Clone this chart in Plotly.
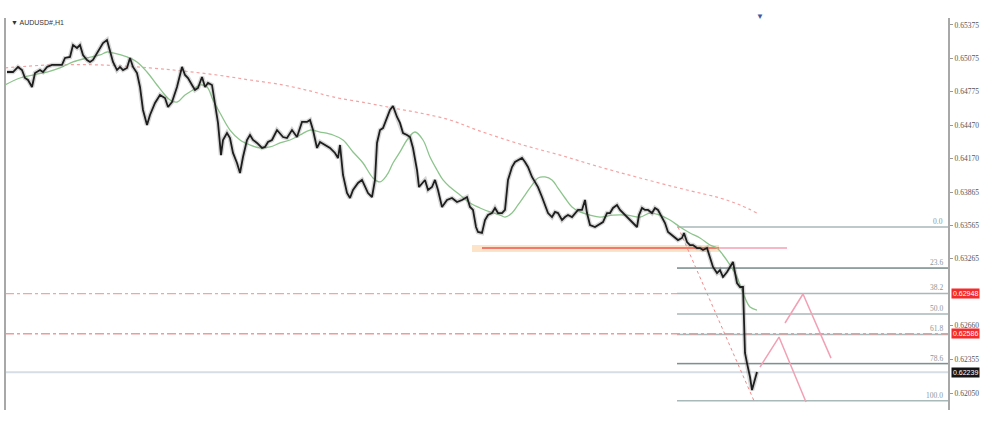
import plotly.graph_objects as go

# ---------------- data ----------------
bar_x = [7, 13, 18, 22, 25, 28, 32, 35, 40, 43,
         47, 52, 57, 62, 65, 70, 73, 77, 80, 83,
         87, 90, 93, 97, 100, 103, 107, 110, 113, 117,
         120, 123, 127, 130, 133, 137, 140, 143, 147, 150,
         155, 160, 165, 168, 172, 177, 182, 185, 188, 192,
         195, 198, 202, 205, 208, 212, 215, 218, 221, 223,
         227, 230, 233, 237, 240, 243, 247, 250, 253, 257,
         262, 265, 268, 272, 277, 280, 283, 287, 292, 297,
         302, 307, 310, 313, 317, 320, 325, 330, 335, 338,
         340, 343, 347, 350, 353, 358, 362, 365, 368, 372,
         375, 377, 380, 383, 387, 390, 393, 397, 400, 403,
         407, 410, 413, 417, 419, 422, 425, 428, 432, 435,
         438, 442, 447, 452, 457, 462, 467, 470, 473, 476,
         478, 482, 485, 488, 492, 495, 498, 502, 505, 508,
         512, 515, 518, 522, 525, 528, 532, 535, 538, 542,
         545, 548, 552, 555, 558, 562, 565, 568, 572, 575,
         578, 582, 585, 587, 590, 595, 600, 603, 607, 610,
         613, 617, 620, 623, 627, 630, 633, 637, 639, 642,
         645, 648, 652, 655, 658, 662, 665, 668, 672, 675,
         678, 682, 684, 687, 690, 693, 697, 700, 703, 707,
         710, 713, 717, 720, 723, 727, 730, 733, 737, 740,
         743, 745, 747, 750, 752, 755, 757]

close = [0.64950, 0.64950, 0.64996, 0.64968, 0.64896, 0.64878, 0.64815, 0.64941, 0.64968, 0.64950,
         0.64996, 0.65014, 0.65014, 0.65014, 0.65077, 0.65086, 0.65194, 0.65167, 0.65194, 0.65104,
         0.65059, 0.65041, 0.65059, 0.65122, 0.65167, 0.65212, 0.65240, 0.65149, 0.65041, 0.64968,
         0.64996, 0.64968, 0.64987, 0.65077, 0.64996, 0.64941, 0.64815, 0.64607, 0.64472, 0.64562,
         0.64670, 0.64743, 0.64715, 0.64634, 0.64679, 0.64815, 0.64996, 0.64923, 0.64896, 0.64833,
         0.64788, 0.64806, 0.64905, 0.64815, 0.64851, 0.64833, 0.64670, 0.64490, 0.64200, 0.64336,
         0.64399, 0.64354, 0.64219, 0.64128, 0.64038, 0.64182, 0.64336, 0.64381, 0.64336, 0.64309,
         0.64264, 0.64273, 0.64318, 0.64336, 0.64426, 0.64399, 0.64363, 0.64354, 0.64426, 0.64363,
         0.64499, 0.64499, 0.64517, 0.64426, 0.64264, 0.64318, 0.64291, 0.64264, 0.64219, 0.64173,
         0.64291, 0.64020, 0.63857, 0.63812, 0.63884, 0.63948, 0.63975, 0.63911, 0.63857, 0.63821,
         0.63975, 0.64309, 0.64426, 0.64444, 0.64544, 0.64607, 0.64643, 0.64544, 0.64490, 0.64399,
         0.64381, 0.64363, 0.64264, 0.64065, 0.63911, 0.63948, 0.63975, 0.63884, 0.63911, 0.63975,
         0.63884, 0.63731, 0.63794, 0.63812, 0.63776, 0.63794, 0.63821, 0.63731, 0.63704, 0.63550,
         0.63505, 0.63496, 0.63613, 0.63658, 0.63676, 0.63722, 0.63676, 0.63676, 0.63704, 0.63975,
         0.64092, 0.64137, 0.64155, 0.64173, 0.64137, 0.64092, 0.64002, 0.63957, 0.63911, 0.63821,
         0.63749, 0.63676, 0.63640, 0.63686, 0.63676, 0.63613, 0.63640, 0.63658, 0.63640, 0.63676,
         0.63704, 0.63704, 0.63794, 0.63676, 0.63568, 0.63550, 0.63577, 0.63595, 0.63676, 0.63676,
         0.63722, 0.63749, 0.63704, 0.63676, 0.63640, 0.63613, 0.63586, 0.63550, 0.63658, 0.63722,
         0.63704, 0.63704, 0.63676, 0.63722, 0.63704, 0.63631, 0.63586, 0.63505, 0.63478, 0.63460,
         0.63432, 0.63451, 0.63496, 0.63414, 0.63387, 0.63387, 0.63360, 0.63360, 0.63342, 0.63360,
         0.63279, 0.63189, 0.63134, 0.63161, 0.63098, 0.63143, 0.63189, 0.63234, 0.63044, 0.63008,
         0.63008, 0.62412, 0.62321, 0.62195, 0.62077, 0.62168, 0.62240]

ma_fast_x = [5, 20, 33, 47, 60, 73, 87, 100, 107, 113, 127, 137, 147, 157, 165, 170, 177, 185,
             193, 200, 207, 213, 220, 230, 240, 250, 260, 270, 280, 290, 300, 310, 320, 333,
             343, 353, 363, 373, 380, 387, 393, 400, 407, 415, 423, 430, 437, 443, 450, 460,
             470, 480, 490, 500, 505, 512, 518, 525, 532, 538, 545, 552, 558, 565, 572, 580,
             590, 600, 613, 627, 640, 650, 660, 670, 680, 690, 700, 710, 717, 723, 730, 737,
             743, 750, 757]
ma_fast = [0.64833, 0.64896, 0.64923, 0.64950, 0.64987, 0.65041, 0.65077, 0.65104, 0.65131,
           0.65122, 0.65086, 0.65041, 0.64950, 0.64833, 0.64743, 0.64697, 0.64679, 0.64743,
           0.64788, 0.64833, 0.64815, 0.64697, 0.64580, 0.64426, 0.64336, 0.64291, 0.64264,
           0.64273, 0.64309, 0.64336, 0.64381, 0.64426, 0.64408, 0.64381, 0.64336, 0.64228,
           0.64128, 0.63993, 0.63957, 0.64020, 0.64128, 0.64228, 0.64336, 0.64408, 0.64336,
           0.64182, 0.64065, 0.63975, 0.63911, 0.63839, 0.63767, 0.63722, 0.63686, 0.63658,
           0.63640, 0.63676, 0.63749, 0.63839, 0.63929, 0.63993, 0.64002, 0.63975, 0.63902,
           0.63812, 0.63731, 0.63686, 0.63658, 0.63640, 0.63658, 0.63658, 0.63640, 0.63676,
           0.63658, 0.63613, 0.63550, 0.63496, 0.63451, 0.63387, 0.63360, 0.63297, 0.63207,
           0.63098, 0.62954, 0.62827, 0.62800]

ma_slow_x = [5, 50, 100, 150, 183, 217, 250, 283, 310, 333, 367, 393, 420, 450, 477, 523,
             560, 600, 640, 687, 720, 740, 757]
ma_slow = [0.64987, 0.65014, 0.65014, 0.64987, 0.64959, 0.64923, 0.64878, 0.64833, 0.64779,
           0.64725, 0.64670, 0.64625, 0.64580, 0.64517, 0.64426, 0.64291, 0.64200, 0.64092,
           0.63993, 0.63884, 0.63812, 0.63749, 0.63676]

# 0.62960 tick sits hidden under the red 0.62948 price tag in the reference
tick_vals = [0.65375, 0.65075, 0.64775, 0.64470, 0.64170, 0.63865, 0.63565, 0.63265,
             0.62660, 0.62355, 0.62050]
tick_text = ["0.65375", "0.65075", "0.64775", "0.64470", "0.64170", "0.63865", "0.63565",
             "0.63265", "0.62660", "0.62355", "0.62050"]

fib_labels = ["0.0", "23.6", "38.2", "50.0", "61.8", "78.6", "100.0"]
fib_prices = [0.63550, 0.63179, 0.62950, 0.62765, 0.62580, 0.62316, 0.61980]
fib_start_x = 677
fib_high_x = 678
fib_low_x = 754

level_red_1 = 0.62948
level_red_2 = 0.62586
level_current = 0.62239

support_lo = 0.63324
support_hi = 0.63387
support_line = 0.63360
support_x = [472, 482, 719, 787]

zig_a_x = [760, 779, 806]
zig_a = [0.62285, 0.62556, 0.61969]
zig_b_x = [785, 803, 831]
zig_b = [0.62683, 0.62945, 0.62366]

X_MIN, X_MAX = 5, 948
Y_MIN, Y_MAX = 0.61897, 0.65438

# ---------------- figure ----------------
fig = go.Figure()

# horizontal levels
fig.add_trace(go.Scatter(x=[X_MIN, X_MAX], y=[level_current, level_current], mode="lines",
                         line=dict(color="#d6dde4", width=2), hoverinfo="skip"))
fib_x, fib_y = [], []
for p in fib_prices:
    fib_x += [fib_start_x, X_MAX, None]
    fib_y += [p, p, None]
fig.add_trace(go.Scatter(x=fib_x, y=fib_y, mode="lines",
                         line=dict(color="#a9b8b8", width=1.5), hoverinfo="skip"))
for i in (1, 5):
    fig.add_trace(go.Scatter(x=[fib_start_x, X_MAX], y=[fib_prices[i], fib_prices[i]], mode="lines",
                             line=dict(color="#7f9090", width=1.3), hoverinfo="skip"))
fig.add_trace(go.Scatter(x=[X_MIN, fib_start_x], y=[level_red_1, level_red_1], mode="lines",
                         line=dict(color="#f5a3a3", width=1.3, dash="dashdot"), hoverinfo="skip"))
fig.add_trace(go.Scatter(x=[X_MIN, X_MAX], y=[level_red_2, level_red_2], mode="lines",
                         line=dict(color="#f09a9a", width=1.3, dash="dashdot"), hoverinfo="skip"))

# support zone
fig.add_shape(type="rect", xref="x", yref="y", x0=support_x[0], x1=support_x[2],
              y0=support_lo, y1=support_hi, fillcolor="#fde3c8", line=dict(width=0), layer="below")
fig.add_trace(go.Scatter(x=[support_x[1], support_x[2]], y=[support_line, support_line], mode="lines",
                         line=dict(color="#f07a6e", width=2), hoverinfo="skip"))
fig.add_trace(go.Scatter(x=[support_x[2], support_x[3]], y=[support_line, support_line], mode="lines",
                         line=dict(color="#f3a0b4", width=1.5), hoverinfo="skip"))

# fib diagonal
fig.add_trace(go.Scatter(x=[fib_high_x, fib_low_x], y=[fib_prices[0], fib_prices[-1]], mode="lines",
                         line=dict(color="#f08a8a", width=1, dash="dot"), hoverinfo="skip"))

# moving averages
fig.add_trace(go.Scatter(x=ma_slow_x, y=ma_slow, mode="lines", line_shape="spline",
                         line=dict(color="#f4a3a3", width=1.2, dash="dot"), hoverinfo="skip"))
fig.add_trace(go.Scatter(x=ma_fast_x, y=ma_fast, mode="lines", line_shape="spline",
                         line=dict(color="#8cc48c", width=1.3), hoverinfo="skip"))

# price
fig.add_trace(go.Scatter(x=bar_x, y=close, mode="lines",
                         line=dict(color="rgba(120,120,120,0.3)", width=4.5), hoverinfo="skip"))
fig.add_trace(go.Scatter(x=bar_x, y=close, mode="lines",
                         line=dict(color="#1e1e1e", width=1.8), hoverinfo="skip"))

# projected zigzags
fig.add_trace(go.Scatter(x=zig_a_x, y=zig_a, mode="lines",
                         line=dict(color="#f3a0b4", width=1.5), hoverinfo="skip"))
fig.add_trace(go.Scatter(x=zig_b_x, y=zig_b, mode="lines",
                         line=dict(color="#f3a0b4", width=1.5), hoverinfo="skip"))

# left border
fig.add_shape(type="line", xref="paper", yref="paper", x0=0, x1=0, y0=0, y1=1,
              line=dict(color="#a8a8a8", width=2))

annotations = []
for lab, p in zip(fib_labels, fib_prices):
    annotations.append(dict(x=X_MAX - 3, y=p, xref="x", yref="y", text=lab, showarrow=False,
                            xanchor="right", yanchor="bottom", yshift=-1,
                            font=dict(size=7.5, color="#8a9898", family="Liberation Serif")))
for p, bg in ((level_red_1, "#f52b2b"), (level_red_2, "#f52b2b"), (level_current, "#151515")):
    annotations.append(dict(x=1.003, y=p, xref="paper", yref="y", text="%.5f" % p, showarrow=False,
                            xanchor="left", yanchor="middle", bgcolor=bg, borderpad=1,
                            font=dict(size=7, color="white", family="Liberation Sans")))
annotations.append(dict(x=0.004, y=1, xref="paper", yref="paper", text="▼ AUDUSD#,H1",
                        showarrow=False, xanchor="left", yanchor="top", yshift=1,
                        font=dict(size=7, color="#333333", family="Liberation Sans")))
annotations.append(dict(x=760, y=1, xref="x", yref="paper", text="▼", showarrow=False,
                        xanchor="center", yanchor="bottom", yshift=-5,
                        font=dict(size=8, color="#3a5aa8")))

fig.update_layout(
    width=1000, height=425,
    margin=dict(l=5, r=52, t=18, b=15),
    paper_bgcolor="white", plot_bgcolor="white",
    showlegend=False,
    annotations=annotations,
    xaxis=dict(range=[X_MIN, X_MAX], visible=False, fixedrange=True),
    yaxis=dict(range=[Y_MIN, Y_MAX], side="right", tickvals=tick_vals, ticktext=tick_text,
               showgrid=False, zeroline=False, showline=True, linecolor="#a8a8a8", linewidth=2,
               ticks="outside", ticklen=3, tickcolor="#999999",
               tickfont=dict(size=7.5, color="#555555", family="Liberation Serif")),
)

fig.write_html("out.html", config={"displayModeBar": False},
               post_script="document.body.style.margin='0';")
